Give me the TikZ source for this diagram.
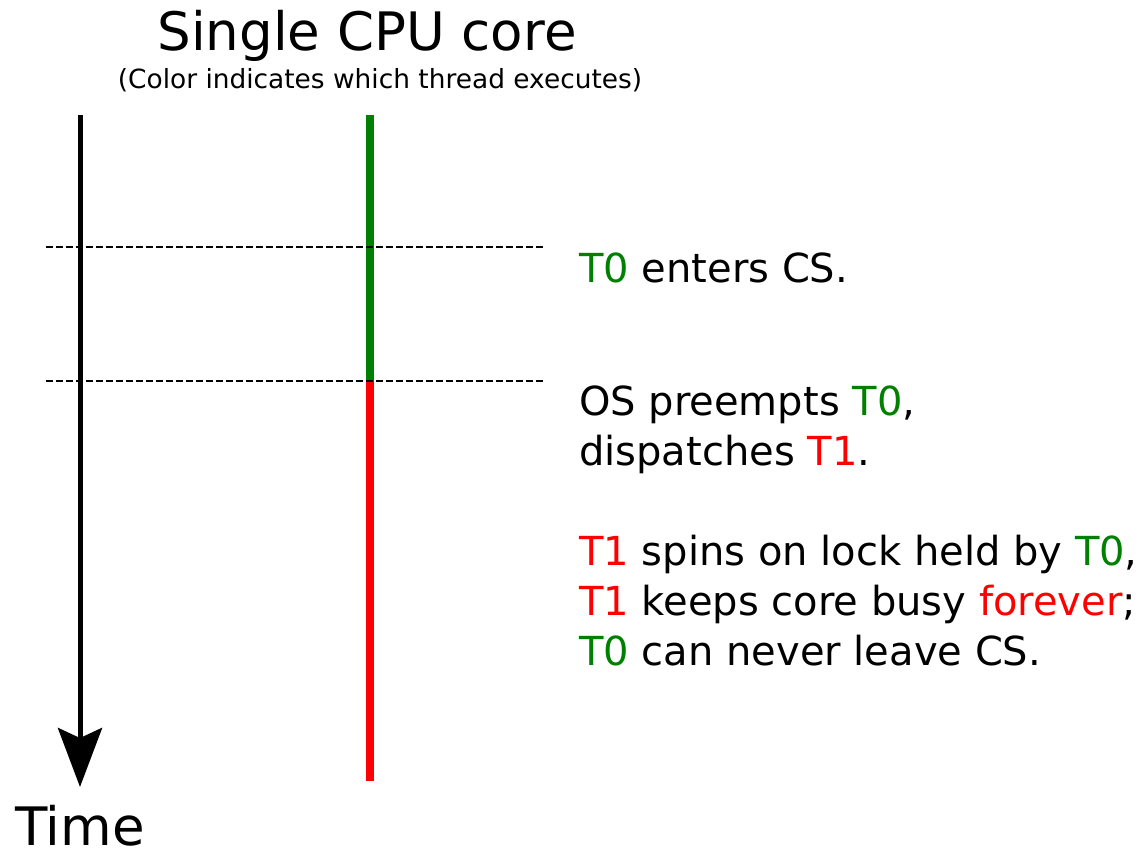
\documentclass[tikz,border=0pt]{standalone}
\usepackage{fontspec}
\setmainfont{DejaVu Sans}
\usepackage{xcolor}
\usetikzlibrary{arrows.meta}
\definecolor{threadzero}{HTML}{008000}
\definecolor{threadone}{HTML}{FF0000}
\newcommand{\Tzero}{\textcolor{threadzero}{T0}}
\newcommand{\Tone}{\textcolor{threadone}{T1}}

\begin{document}
\begin{tikzpicture}[x=1pt,y=-1pt,
	dashline/.style={line width=2.5pt,dash pattern=on 6.5pt off 3.5pt},
	body/.style={anchor=base west,inner sep=0pt,align=left,font=\fontsize{40}{50}\selectfont}]
	\useasboundingbox (0,0) rectangle (1138,852);
	% heading
	\node (title) at (367,50) [anchor=base,inner sep=0pt,font=\fontsize{53}{60}\selectfont] {Single CPU core};
	\node (subtitle) at (380,88) [anchor=base,inner sep=0pt,font=\fontsize{26.4}{30}\selectfont] {(Color indicates which thread executes)};
	% time axis
	\coordinate (ttop) at (80,115);
	\coordinate (tend) at (80,787);
	\draw [line width=5pt,-{Stealth[length=59pt,width=44pt,inset=10pt]}] (ttop) -- (tend);
	\node (timelabel) at (80,845) [anchor=base,inner sep=0pt,font=\fontsize{53}{60}\selectfont] {Time};
	% core
	\coordinate (ctop) at (370,115);
	\coordinate (cswitch) at (370,381);
	\coordinate (cend) at (370,781);
	\draw [line width=8pt,threadzero] (ctop) -- (cswitch);
	\draw [line width=8pt,threadone] (cswitch) -- (cend);
	\coordinate (enterL) at (46,247);
	\coordinate (enterR) at (543,247);
	\coordinate (switchL) at (46,381);
	\coordinate (switchR) at (543,381);
	\draw [dashline] (enterL) -- (enterR);
	\draw [dashline] (switchL) -- (switchR);
	% notes (base = last line)
	\node (enter) at (579,282) [body] {\Tzero{} enters CS.};
	\node (preempt) at (579,465) [body] {OS preempts \Tzero,\\dispatches \Tone.};
	\node (spin) at (579,665) [body] {\Tone{} spins on lock held by \Tzero,\\\Tone{} keeps core busy \textcolor{threadone}{forever};\\\Tzero{} can never leave CS.};
\end{tikzpicture}
\end{document}
